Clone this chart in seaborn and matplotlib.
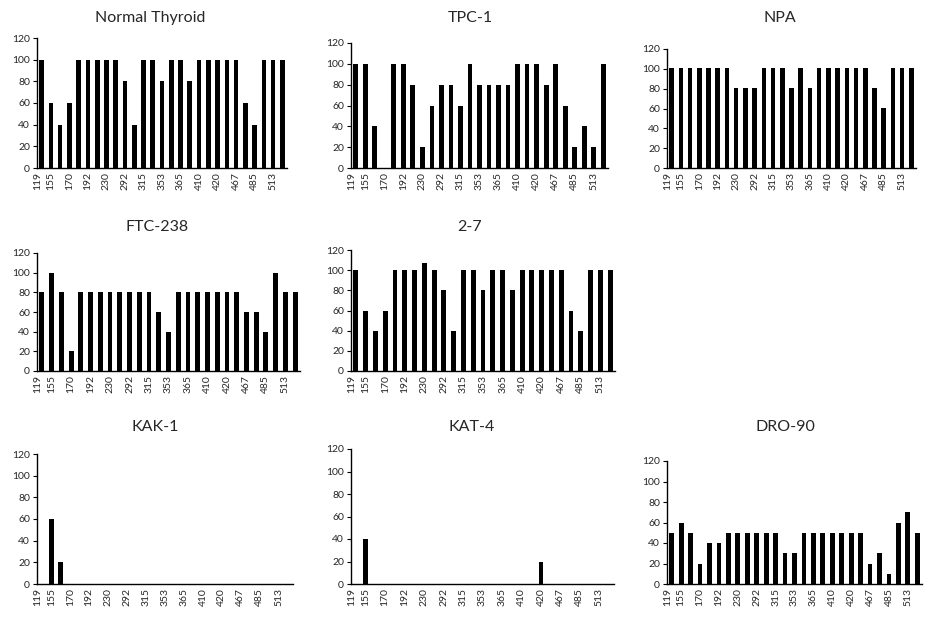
import matplotlib
matplotlib.use("Agg")
import matplotlib.pyplot as plt
import seaborn as sns
import numpy as np

sns.set_style("white")
plt.rcParams['font.family'] = ['Lato', 'DejaVu Sans']

tick_labels = ["119", "155", "170", "192", "230", "292", "315", "353",
               "365", "410", "420", "467", "485", "513"]

normal_thyroid = [100, 60, 40, 60, 100, 100, 100, 100, 100, 80, 40, 100, 100, 80,
                  100, 100, 80, 100, 100, 100, 100, 100, 60, 40, 100, 100, 100]
tpc_1 = [100, 100, 40, 0, 100, 100, 80, 20, 60, 80, 80, 60, 100, 80,
         80, 80, 80, 100, 100, 100, 80, 100, 60, 20, 40, 20, 100]
npa = [101, 101, 101, 101, 101, 101, 101, 81, 81, 81, 101, 101, 101, 81,
       101, 81, 101, 101, 101, 101, 101, 101, 81, 61, 101, 101, 101]
ftc_238 = [80, 100, 80, 20, 80, 80, 80, 80, 80, 80, 80, 80, 60, 40,
           80, 80, 80, 80, 80, 80, 80, 60, 60, 40, 100, 80, 80]
line_2_7 = [100, 60, 40, 60, 100, 100, 100, 107, 100, 80, 40, 100, 100, 80,
            100, 100, 80, 100, 100, 100, 100, 100, 60, 40, 100, 100, 100]
kak_1 = [0, 60, 20, 0, 0, 0, 0, 0, 0, 0, 0, 0, 0, 0,
         0, 0, 0, 0, 0, 0, 0, 0, 0, 0, 0, 0, 0]
kat_4 = [0, 40, 0, 0, 0, 0, 0, 0, 0, 0, 0, 0, 0, 0,
         0, 0, 0, 0, 0, 20, 0, 0, 0, 0, 0, 0, 0]
dro_90 = [50, 60, 50, 20, 40, 40, 50, 50, 50, 50, 50, 50, 30, 30,
          50, 50, 50, 50, 50, 50, 50, 20, 30, 10, 60, 70, 50]

# panel: (title, data, left, right, top, bottom px, title_x, title_y)
panels = [
    ("Normal Thyroid", normal_thyroid, 37, 287, 38, 168, 150, 18),
    ("TPC-1", tpc_1, 351, 608, 43, 168, 470, 18),
    ("NPA", npa, 667, 916, 49, 168, 780, 18),
    ("FTC-238", ftc_238, 37, 300, 253, 371, 157, 227),
    ("2-7", line_2_7, 351, 615, 250, 371, 470, 227),
    ("KAK-1", kak_1, 37, 293, 454, 584, 155, 427),
    ("KAT-4", kat_4, 351, 614, 449, 584, 472, 427),
    ("DRO-90", dro_90, 667, 922, 461, 584, 785, 427),
]

W, H = 930, 618
fig = plt.figure(figsize=(W / 100, H / 100), dpi=100)

n = len(normal_thyroid)
positions = list(range(n))
label_pos = [-0.45] + list(range(1, n - 1, 2))

for title, data, l, r, t, b, tx, ty in panels:
    ax = fig.add_axes([l / W, 1 - b / H, (r - l) / W, (b - t) / H])
    sns.barplot(x=positions, y=data, color="black", width=0.5,
                saturation=1, ax=ax, edgecolor="black", linewidth=0)
    ax.set_xlim(-0.5, n - 0.5)
    ax.set_ylim(0, 120)
    ax.set_yticks(range(0, 121, 20))
    ax.set_xticks(label_pos)
    ax.set_xticklabels(tick_labels, rotation=90, fontsize=7.5)
    ax.set_xticks(np.arange(-0.5, n, 1), minor=True)
    ax.tick_params(axis="x", which="major", length=0, pad=3)
    ax.tick_params(axis="x", which="minor", length=3, width=0.8, color="black", direction="out")
    ax.tick_params(axis="y", length=3, width=0.8, color="black", direction="out",
                   labelsize=7.5, pad=2)
    ax.tick_params(bottom=True, left=True)
    for s in ["top", "right"]:
        ax.spines[s].set_visible(False)
    for s in ["left", "bottom"]:
        ax.spines[s].set_color("black")
        ax.spines[s].set_linewidth(1.0)
    ax.set_xlabel("")
    ax.set_ylabel("")
    ax.grid(False)
    fig.text(tx / W, 1 - ty / H, title, ha="center", va="center", fontsize=11.5)

fig.savefig("out.png", dpi=100, facecolor="white")
